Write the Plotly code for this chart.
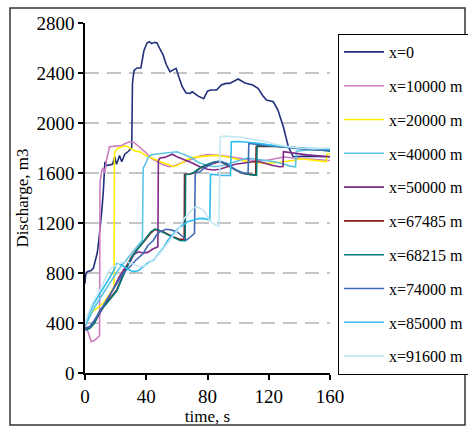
import plotly.graph_objects as go

# ---- data: (time s, discharge m3) per station ----
names = ["x=0", "x=10000 m", "x=20000 m", "x=40000 m", "x=50000 m",
         "x=67485 m", "x=68215 m", "x=74000 m", "x=85000 m", "x=91600 m"]
colors = ["#22307A", "#CC7DBE", "#FFEE00", "#5CC6E4", "#7E2A86",
          "#861C1E", "#007A76", "#4069B6", "#30BCEE", "#C4E6F4"]

s_x0 = [(0,717),(0.5,790),(1.5,811),(4,820),(5.5,840),(7,900),(8,960),(9,1060),(10,1160),
        (11,1300),(12,1460),(13,1690),(14,1660),(16,1665),(18,1670),(19.5,1730),(20.5,1670),
        (21.5,1700),(22.5,1740),(24,1690),(26,1750),(28,1770),(29.5,1784),(30.5,1800),
        (31,2320),(32,2420),(34,2440),(36.5,2440),(38.5,2580),(40.5,2640),(42,2650),(43.5,2635),
        (45.5,2645),(47,2640),(49,2590),(51,2545),(53,2470),(55.5,2410),(57.5,2425),(59.5,2437),
        (61.5,2360),(63.5,2290),(66,2240),(68.5,2237),(70,2250),(74,2215),(77.5,2195),(80,2255),
        (82,2264),(86,2264),(89,2304),(92,2317),(94.5,2317),(97,2335),(100,2352),(104.5,2320),
        (109.5,2304),(113,2277),(116,2220),(118.5,2184),(123,2170),(126,2104),(129.5,1970),
        (132.8,1810),(136,1730),(145,1735),(160,1730)]

s_x10000 = [(0,360),(2,330),(4,250),(6,260),(9,290),(9.5,300),(9.8,1530),(11,1620),(12,1640),
            (13,1600),(14,1700),(16,1810),(20,1815),(24,1820),(27,1840),(29.5,1850),(32,1845),
            (35,1815),(38,1780),(40,1760),(43,1720),(47,1690),(51,1665),(55,1650),(59,1660),
            (62,1677),(66,1695),(71,1717),(75,1735),(80,1747),(88,1741),(96,1728),(103,1712),
            (110,1700),(118,1700),(124,1712),(130,1728),(136,1720),(142,1714),(150,1708),(160,1700)]

s_x20000 = [(0,360),(1,420),(2,470),(4,480),(6,500),(9,525),(12,560),(15,610),(17.5,660),
            (19,690),(19.2,1750),(20,1780),(22,1800),(24,1810),(27,1816),(29,1800),(31,1784),
            (33,1775),(36,1770),(39,1745),(42,1728),(45,1710),(48,1695),(51,1680),(54,1670),
            (57.5,1650),(60,1660),(63,1677),(67,1710),(71,1725),(77,1733),(82,1740),(86,1741),
            (92,1730),(97,1714),(103,1700),(108,1688),(113,1680),(118,1677),(124,1682),(130,1690),
            (136,1700),(141,1714),(146,1706),(151,1700),(156,1690),(157.5,1690),(158,1750),(160,1752)]

s_x40000 = [(0,370),(3,450),(6,520),(10,600),(14,680),(18,760),(22,830),(26,890),(30,950),
            (34,1010),(37.5,1064),(38,1640),(39.2,1664),(41,1720),(43,1745),(47,1752),(53,1762),
            (57,1770),(60,1770),(63,1755),(66,1741),(70,1720),(72,1700),(75,1680),(80,1660),
            (85,1650),(90,1660),(95,1680),(100,1700),(106,1720),(112,1710),(118,1700),(124,1690),
            (130,1670),(134,1655),(137.5,1650),(138,1775),(145,1785),(152,1790),(160,1790)]

s_x50000 = [(0,360),(3,370),(6,400),(10,480),(14,570),(18,660),(22,760),(26,840),(29.5,890),
            (32,950),(35,970),(38,960),(41,965),(44,990),(46,1000),(47.6,1010),(47.9,1700),
            (49,1720),(52,1725),(55,1740),(57,1750),(60,1730),(63,1715),(66,1705),(70,1680),
            (75,1650),(80,1630),(84,1624),(88,1630),(93,1650),(98,1670),(104,1680),(110,1690),
            (114,1690),(118,1675),(122,1662),(127,1650),(129.3,1652),(129.6,1770),(135,1760),
            (145,1745),(160,1730)]

s_x67485 = [(0,350),(3,360),(6,400),(9.8,500),(14,560),(18,620),(20.7,664),(24,760),(27,850),
            (30,920),(33.7,984),(37,1030),(40.3,1077),(43,1120),(45.7,1149),(48,1140),(51,1130),
            (55,1104),(58,1090),(62,1069),(64.8,1069),(65,1590),(68,1590),(71,1600),(75,1637),
            (79,1660),(83.7,1677),(88,1690),(91,1675),(94.6,1650),(99,1620),(103.3,1597),
            (107,1590),(111.5,1584),(111.8,1812),(120,1814),(130,1810),(140,1800),(150,1790),(160,1782)]

s_x68215 = [(0,345),(3,355),(6,395),(9.8,495),(14,555),(18,612),(20.7,655),(24,750),(27,840),
            (30,915),(33.7,980),(37,1035),(40.3,1085),(43,1130),(45.7,1152),(48,1145),(51,1125),
            (55,1100),(58,1085),(62,1060),(65.4,1058),(65.7,1588),(68,1590),(71,1605),(75,1640),
            (79,1665),(83.7,1685),(88,1695),(91,1680),(94.6,1655),(99,1622),(103.3,1600),
            (107,1588),(112,1582),(112.4,1818),(120,1818),(130,1812),(140,1800),(150,1790),(160,1775)]

s_x74000 = [(0,355),(3,370),(6,420),(10,500),(14,580),(18.5,664),(22,740),(25,800),(29.4,850),
            (33,900),(38,957),(41,1020),(44.6,1060),(47,1110),(49,1130),(53,1150),(56,1145),
            (60,1130),(63,1100),(66.4,1064),(69,1090),(71.5,1117),(72,1600),(75,1610),(78,1640),
            (82,1670),(85,1690),(88,1690),(92,1680),(96.7,1637),(100,1615),(104,1597),(106.5,1600),
            (107,1837),(112,1830),(120,1820),(130,1805),(140,1795),(150,1785),(160,1780)]

s_x85000 = [(0,380),(3,480),(6,560),(9.8,637),(13,710),(16.3,770),(18,800),(20.7,877),(24,864),
            (28,830),(31.6,811),(35,820),(38,850),(41,880),(44.6,904),(48,950),(51,997),(54,1060),
            (57.7,1117),(61,1160),(64,1184),(67,1210),(70.7,1224),(74,1235),(77.3,1237),(81.5,1224),
            (82,1590),(85,1585),(90,1580),(95,1580),(95.6,1850),(100,1852),(106,1848),(112,1840),
            (120,1825),(130,1810),(140,1800),(150,1795),(160,1790)]

s_x91600 = [(0,390),(2,470),(5,560),(9.8,664),(14.2,784),(17,840),(20.7,864),(24,885),(27.2,890),
            (31,870),(36,850),(40.3,864),(44,900),(47.8,944),(51,990),(54,1037),(58,1100),(62,1170),
            (65,1240),(68.6,1290),(71,1320),(73,1330),(75,1320),(77.3,1304),(80,1250),(82,1210),
            (85,1185),(87.5,1176),(88.3,1890),(92,1895),(97,1890),(103,1885),(109,1870),(115,1855),
            (118.5,1850),(124,1830),(130,1815),(140,1800),(150,1795),(160,1800)]

series = [s_x0, s_x10000, s_x20000, s_x40000, s_x50000,
          s_x67485, s_x68215, s_x74000, s_x85000, s_x91600]

x_ticks = [0, 40, 80, 120, 160]
y_ticks = [0, 400, 800, 1200, 1600, 2000, 2400, 2800]

FONT = "Liberation Serif, Times New Roman, serif"

fig = go.Figure()
for name, col, data in zip(names, colors, series):
    fig.add_trace(go.Scatter(
        x=[p[0] for p in data], y=[p[1] for p in data],
        mode="lines", name=name, legendgroup=name,
        line=dict(color=col, width=1.6)))

# plot area: x 85..330 px, y 23..373 px
L, R, T, B = 85, 330, 23, 373
W, H = 468, 427
def px(x):
    return (x - L) / (R - L)
def py(y):
    return (B - y) / (B - T)

fig.update_layout(
    width=W, height=H,
    margin=dict(l=L, r=W - R, t=T, b=H - B),
    paper_bgcolor="white", plot_bgcolor="white",
    font=dict(family=FONT, size=17, color="black"),
    showlegend=True,
    legend=dict(xref="container", yref="container",
                x=338 / W, y=1 - 34 / H, xanchor="left", yanchor="top",
                maxheight=400,
                bordercolor="black", borderwidth=1, bgcolor="white",
                font=dict(family=FONT, size=16, color="black"),
                tracegroupgap=10, traceorder="grouped", itemwidth=40),
    xaxis=dict(range=[0, 160], tickvals=x_ticks, showgrid=False, zeroline=False,
               showline=True, linecolor="black", linewidth=1.5,
               ticks="outside", ticklen=5, tickcolor="black", tickwidth=1.5,
               tickfont=dict(family=FONT, size=19),
               title=dict(text="time, s", font=dict(family=FONT, size=17), standoff=0),
               automargin=False),
    yaxis=dict(range=[0, 2800], tickvals=y_ticks, showgrid=True, gridcolor="#C4C4C4",
               gridwidth=1.5, griddash="14px,8px", zeroline=False,
               showline=True, linecolor="black", linewidth=1.5,
               ticks="outside", ticklen=5, tickcolor="black", tickwidth=1.5,
               tickfont=dict(family=FONT, size=19),
               title=dict(text="Discharge, m3", font=dict(family=FONT, size=17), standoff=4),
               automargin=False),
    shapes=[dict(type="rect", xref="paper", yref="paper",
                 x0=px(10), x1=px(465), y0=py(425), y1=py(8),
                 line=dict(color="#333333", width=1.5), layer="below")],
)

fig.write_html("out.html", config={"displayModeBar": False},
               post_script="document.body.style.margin='0';document.body.style.overflow='hidden';")
